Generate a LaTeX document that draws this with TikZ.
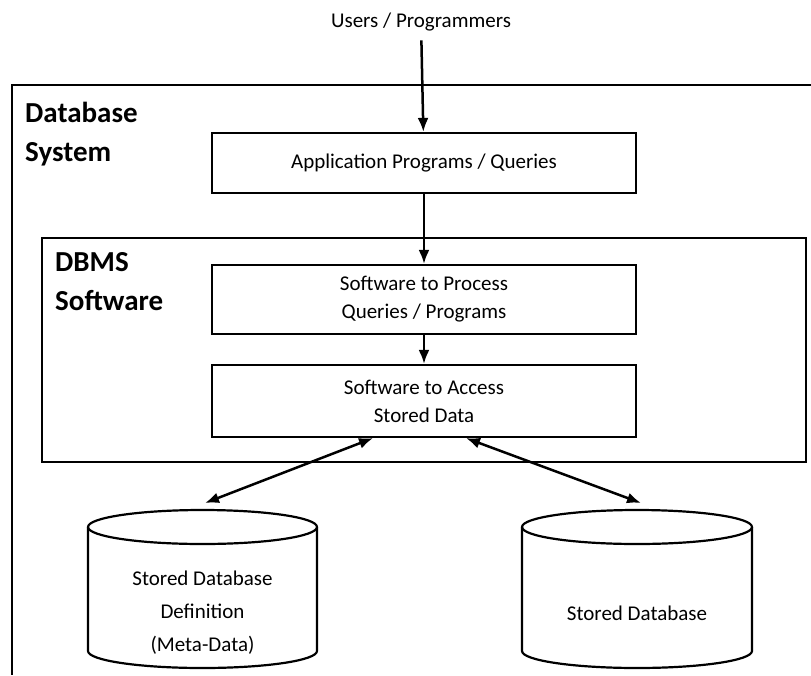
\documentclass[tikz,border=0pt]{standalone}
\usepackage{fontspec}
\setmainfont{Carlito}
\usetikzlibrary{arrows.meta}
\begin{document}
\begin{tikzpicture}[x=1pt, y=-1pt,
    box/.style={draw, line width=2.2pt, minimum width=424pt, align=center, inner sep=0pt, font=\fontsize{21}{28}\selectfont},
    title/.style={anchor=north west, align=left, inner sep=0pt, font=\fontsize{29}{39}\selectfont\bfseries},
    flow/.style={line width=2.5pt, -{Latex[length=14pt,width=11pt]}},
    both/.style={line width=2.5pt, {Latex[length=14pt,width=11pt]}-{Latex[length=14pt,width=11pt]}},
    can/.style={line width=2.2pt}]
    \useasboundingbox (0,0) rectangle (811,675);

    \node (users) at (421,22) [inner sep=0pt, font=\fontsize{21}{25}\selectfont] {Users / Programmers};

    % database system frame
    \draw [line width=2.6pt] (811,85) -- (12,85) -- (12,675);
    \node [title] (dbsys) at (25,102) {Database\\System};

    \node [box, minimum height=60pt] (app) at (424,163) {Application Programs / Queries};

    % dbms frame
    \draw [line width=2.4pt] (42,238) rectangle (806,462);
    \node [title] (dbms) at (55,252) {DBMS\\Software};

    \node [box, minimum height=69pt] (proc) at (424,299.5) {Software to Process\\Queries / Programs};
    \node [box, minimum height=72pt] (acc) at (424,401) {Software to Access\\Stored Data};

    % stored data
    \draw [can] (88,527) -- (88,651) arc[start angle=180, end angle=0, x radius=114.5, y radius=17] -- (317,527);
    \draw [can] (202.5,527) ellipse [x radius=114.5, y radius=17];
    \draw [can] (522,527) -- (522,651) arc[start angle=180, end angle=0, x radius=115, y radius=17] -- (752,527);
    \draw [can] (637,527) ellipse [x radius=115, y radius=17];

    \node (meta) at (202.5,613) [align=center, font=\fontsize{21}{33}\selectfont] {Stored Database\\Definition\\(Meta-Data)};
    \node (data) at (637,613) [font=\fontsize{21}{33}\selectfont] {Stored Database};

    \coordinate (metatop) at (205,503);
    \coordinate (datatop) at (641,503);

    \draw [flow, shorten <=9pt] (users) -- (app);
    \draw [flow] (app) -- (proc);
    \draw [flow] (proc) -- (acc);
    \draw [both] ([xshift=-51pt]acc.south) -- (metatop);
    \draw [both] ([xshift=42pt]acc.south) -- (datatop);

\end{tikzpicture}
\end{document}
